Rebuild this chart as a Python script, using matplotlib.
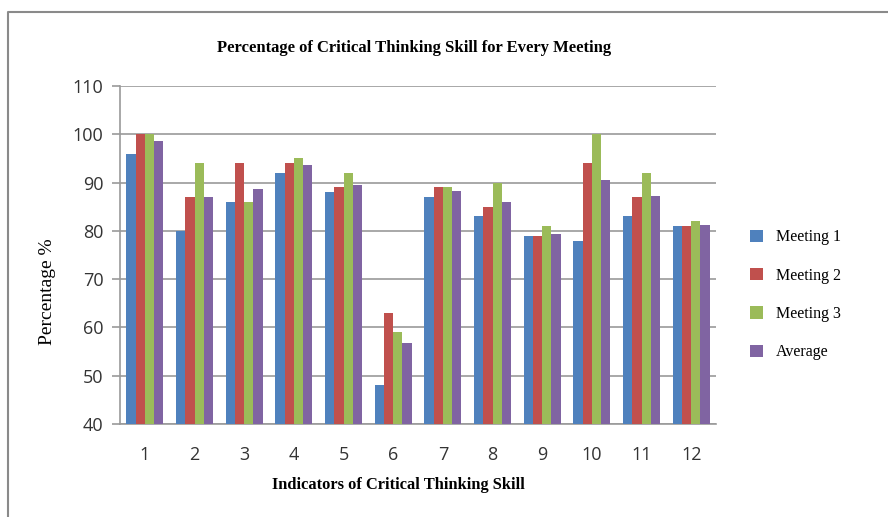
import numpy as np
import matplotlib
matplotlib.use("Agg")
from matplotlib import pyplot as plt
from matplotlib.lines import Line2D

indicadores = ["1", "2", "3", "4", "5", "6", "7", "8", "9", "10", "11", "12"]
meeting1 = [96, 80, 86, 92, 88, 48, 87, 83, 79, 78, 83, 81]
meeting2 = [100, 87, 94, 94, 89, 63, 89, 85, 79, 94, 87, 81]
meeting3 = [100, 94, 86, 95, 92, 59, 89, 90, 81, 100, 92, 82]
promedio = [98.6, 87, 88.7, 93.6, 89.5, 56.7, 88.3, 86, 79.4, 90.6, 87.2, 81.2]
series = ["Meeting 1", "Meeting 2", "Meeting 3", "Average"]
colores = ["#4F81BD", "#C0504D", "#9BBB59", "#8064A2"]

fig = plt.figure(figsize=(8.88, 5.17), dpi=100)
ax = fig.add_axes([120/888, 1-424/517, 596/888, 338/517])

x = np.arange(len(indicadores))
w = 0.1875
datos = [meeting1, meeting2, meeting3, promedio]
for i in range(4):
    ax.bar(x + (i - 1.5)*w, np.array(datos[i]) - 40, width=w, bottom=40,
           color=colores[i], label=series[i], zorder=3)

ax.set_xlim(-0.5, 11.5)
ax.set_ylim(40, 110)
ax.set_yticks(range(40, 111, 10))
ax.set_xticks(x)
ax.set_xticklabels(indicadores)
ax.yaxis.grid(True, color="#9a9a9a", linewidth=1.2, zorder=0)
for s in ["top", "right"]:
    ax.spines[s].set_visible(False)
for s in ["left", "bottom"]:
    ax.spines[s].set_color("#9a9a9a")
    ax.spines[s].set_linewidth(1.2)
ax.tick_params(axis="y", length=6, color="#9a9a9a", width=1.2, pad=6,
               labelsize=13, labelcolor="#333333")
ax.tick_params(axis="x", length=0, pad=16, labelsize=13, labelcolor="#333333")
for t in ax.get_xticklabels() + ax.get_yticklabels():
    t.set_family("Open Sans")

#titulos
fig.text(414/888, 1-48/517, "Percentage of Critical Thinking Skill for Every Meeting",
         ha="center", va="center", family="Liberation Serif", weight="bold", fontsize=12)
fig.text(398/888, 1-485/517, "Indicators of Critical Thinking Skill",
         ha="center", va="center", family="Liberation Serif", weight="bold", fontsize=11.8)
fig.text(47/888, 1-292/517, "Percentage %", rotation=90,
         ha="center", va="center", family="Liberation Serif", fontsize=14)

leg = ax.legend(loc="upper left", bbox_to_anchor=(736/888, 1-215/517),
                bbox_transform=fig.transFigure, frameon=False,
                prop={"family": "Liberation Serif", "size": 11.5},
                handlelength=0.8, handleheight=0.8, labelspacing=1.4, handletextpad=0.8)

#marco
fig.add_artist(Line2D([8/888, 8/888, 1], [0, 1-12/517, 1-12/517],
                      transform=fig.transFigure, color="#8a8a8a", linewidth=1.5))

plt.savefig("out.png", dpi=100)
